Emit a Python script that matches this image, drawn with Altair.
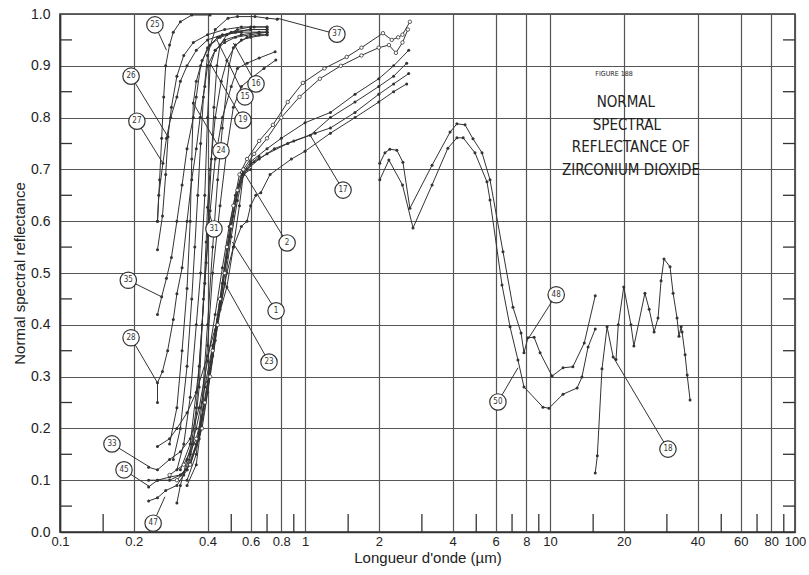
import altair as alt
import pandas as pd

# ---------------- data ----------------
# visible / near-UV curves (wavelength in um, reflectance)
c25_x = [0.25, 0.255, 0.26, 0.265, 0.27, 0.28, 0.29, 0.31, 0.345, 0.41]
c25_y = [0.60, 0.68, 0.76, 0.84, 0.90, 0.94, 0.965, 0.985, 0.998, 0.998]

c26_x = [0.25, 0.262, 0.27, 0.276, 0.285, 0.30, 0.32, 0.35, 0.40, 0.47, 0.55, 0.62, 0.70]
c26_y = [0.545, 0.61, 0.69, 0.763, 0.82, 0.88, 0.92, 0.945, 0.96, 0.97, 0.975, 0.975, 0.975]

c27_x = [0.25, 0.253, 0.263, 0.272, 0.283, 0.30, 0.31, 0.33, 0.36, 0.40, 0.46, 0.55, 0.70]
c27_y = [0.60, 0.65, 0.712, 0.76, 0.80, 0.84, 0.87, 0.90, 0.93, 0.95, 0.96, 0.965, 0.965]

c35_x = [0.25, 0.26, 0.272, 0.285, 0.30, 0.315, 0.33, 0.35, 0.36, 0.375, 0.40, 0.44, 0.50, 0.60, 0.70]
c35_y = [0.42, 0.454, 0.49, 0.53, 0.60, 0.67, 0.74, 0.80, 0.84, 0.90, 0.935, 0.955, 0.965, 0.97, 0.97]

c28_x = [0.25, 0.25, 0.262, 0.275, 0.29, 0.30, 0.315, 0.33, 0.345, 0.36, 0.373, 0.39, 0.40, 0.43, 0.47, 0.55, 0.65, 0.70]
c28_y = [0.25, 0.288, 0.31, 0.35, 0.41, 0.46, 0.51, 0.60, 0.68, 0.74, 0.80, 0.86, 0.90, 0.93, 0.95, 0.96, 0.965, 0.965]

c24_x = [0.28, 0.30, 0.315, 0.33, 0.34, 0.345, 0.35, 0.36, 0.38, 0.41, 0.45, 0.52, 0.60, 0.70]
c24_y = [0.17, 0.24, 0.35, 0.47, 0.60, 0.72, 0.828, 0.87, 0.91, 0.94, 0.955, 0.965, 0.97, 0.97]

c37_x = [0.29, 0.31, 0.33, 0.345, 0.355, 0.365, 0.375, 0.385, 0.40, 0.43, 0.485, 0.53, 0.625, 0.70, 0.77]
c37_y = [0.14, 0.20, 0.32, 0.45, 0.55, 0.65, 0.75, 0.84, 0.92, 0.97, 0.992, 0.995, 0.995, 0.992, 0.99]

c19_x = [0.30, 0.32, 0.34, 0.36, 0.375, 0.39, 0.40, 0.41, 0.43, 0.47, 0.52, 0.60, 0.70]
c19_y = [0.12, 0.17, 0.26, 0.40, 0.50, 0.65, 0.80, 0.90, 0.93, 0.945, 0.955, 0.96, 0.965]

c15_x = [0.32, 0.34, 0.36, 0.38, 0.395, 0.405, 0.415, 0.425, 0.437, 0.45, 0.48, 0.53, 0.60, 0.70]
c15_y = [0.11, 0.15, 0.24, 0.40, 0.52, 0.62, 0.72, 0.82, 0.90, 0.94, 0.96, 0.97, 0.975, 0.975]

c31_x = [0.33, 0.35, 0.37, 0.385, 0.395, 0.40, 0.41, 0.43, 0.455, 0.48, 0.52, 0.58, 0.65, 0.70]
c31_y = [0.12, 0.17, 0.28, 0.45, 0.56, 0.627, 0.70, 0.80, 0.87, 0.91, 0.94, 0.955, 0.96, 0.96]

c16_x = [0.33, 0.36, 0.38, 0.40, 0.42, 0.44, 0.46, 0.49, 0.51, 0.55, 0.60, 0.70]
c16_y = [0.10, 0.15, 0.25, 0.40, 0.55, 0.68, 0.78, 0.90, 0.935, 0.95, 0.955, 0.96]

cA_x = [0.31, 0.34, 0.37, 0.39, 0.41, 0.43, 0.46, 0.50, 0.53, 0.58, 0.65, 0.755]
cA_y = [0.12, 0.17, 0.32, 0.48, 0.62, 0.72, 0.80, 0.86, 0.895, 0.905, 0.915, 0.927]

cB_x = [0.33, 0.36, 0.38, 0.40, 0.42, 0.45, 0.48, 0.51, 0.55, 0.60, 0.68, 0.76]
cB_y = [0.09, 0.13, 0.22, 0.36, 0.50, 0.63, 0.74, 0.82, 0.86, 0.875, 0.895, 0.911]

# curves extending to 2.6 um (two drawn with open circles)
o1_x = [0.28, 0.32, 0.36, 0.39, 0.42, 0.45, 0.48, 0.51, 0.54, 0.58, 0.65, 0.74, 0.85, 0.98, 1.2, 1.48, 1.7, 2.08, 2.26, 2.4, 2.5, 2.68]
o1_y = [0.11, 0.13, 0.18, 0.25, 0.35, 0.45, 0.55, 0.63, 0.69, 0.72, 0.755, 0.786, 0.83, 0.867, 0.895, 0.917, 0.935, 0.963, 0.95, 0.955, 0.96, 0.985]

o2_x = [0.30, 0.34, 0.38, 0.41, 0.44, 0.47, 0.50, 0.53, 0.56, 0.62, 0.70, 0.80, 0.95, 1.15, 1.4, 1.7, 2.0, 2.2, 2.35, 2.5, 2.63]
o2_y = [0.10, 0.13, 0.20, 0.30, 0.40, 0.50, 0.59, 0.66, 0.70, 0.73, 0.76, 0.80, 0.84, 0.875, 0.90, 0.92, 0.935, 0.94, 0.925, 0.945, 0.97]

c33_x = [0.23, 0.25, 0.28, 0.31, 0.34, 0.37, 0.40, 0.43, 0.46, 0.49, 0.52, 0.55, 0.60, 0.70, 0.80, 1.0, 1.27, 1.6, 2.0, 2.3, 2.65]
c33_y = [0.125, 0.12, 0.14, 0.155, 0.18, 0.24, 0.33, 0.42, 0.51, 0.59, 0.65, 0.69, 0.715, 0.74, 0.76, 0.79, 0.81, 0.845, 0.875, 0.90, 0.93]

c45_x = [0.23, 0.25, 0.28, 0.31, 0.34, 0.37, 0.40, 0.43, 0.46, 0.49, 0.52, 0.56, 0.62, 0.70, 0.85, 1.05, 1.27, 1.6, 2.0, 2.3, 2.6]
c45_y = [0.087, 0.10, 0.106, 0.11, 0.13, 0.19, 0.29, 0.39, 0.48, 0.57, 0.64, 0.695, 0.715, 0.73, 0.75, 0.766, 0.80, 0.83, 0.86, 0.88, 0.905]

c47_x = [0.23, 0.25, 0.27, 0.30, 0.33, 0.36, 0.39, 0.42, 0.45, 0.48, 0.51, 0.54, 0.58, 0.65, 0.75, 0.90, 1.1, 1.27, 1.6, 2.0, 2.3, 2.65]
c47_y = [0.06, 0.066, 0.08, 0.09, 0.12, 0.17, 0.25, 0.34, 0.44, 0.53, 0.61, 0.67, 0.70, 0.72, 0.74, 0.755, 0.77, 0.78, 0.81, 0.845, 0.865, 0.885]

c2_x = [0.30, 0.31, 0.33, 0.36, 0.39, 0.42, 0.45, 0.48, 0.51, 0.55, 0.58, 0.60, 0.63, 0.66, 0.72, 0.88, 1.0, 1.27, 1.6, 2.0, 2.3, 2.6]
c2_y = [0.056, 0.09, 0.14, 0.20, 0.28, 0.36, 0.43, 0.50, 0.55, 0.59, 0.60, 0.63, 0.65, 0.655, 0.69, 0.72, 0.735, 0.77, 0.80, 0.83, 0.85, 0.865]

c1_x = [0.25, 0.28, 0.30, 0.33, 0.36, 0.40, 0.44, 0.48, 0.51, 0.54, 0.56, 0.60, 0.65]
c1_y = [0.165, 0.18, 0.20, 0.23, 0.27, 0.34, 0.41, 0.473, 0.55, 0.63, 0.69, 0.71, 0.725]

c23_x = [0.23, 0.25, 0.28, 0.31, 0.34, 0.37, 0.40, 0.43, 0.47, 0.50, 0.53, 0.56, 0.60]
c23_y = [0.10, 0.10, 0.10, 0.11, 0.13, 0.18, 0.27, 0.37, 0.48, 0.57, 0.64, 0.69, 0.70]

# infrared curves
c48_x = [2.02, 2.12, 2.22, 2.37, 2.51, 2.68, 3.30, 3.91, 4.17, 4.50, 4.85, 5.28, 5.69, 6.43, 7.06, 7.62, 7.83, 8.13, 8.61, 9.11, 10.2, 11.3, 12.4, 13.8, 15.3]
c48_y = [0.712, 0.732, 0.739, 0.737, 0.714, 0.625, 0.708, 0.772, 0.788, 0.786, 0.759, 0.732, 0.680, 0.541, 0.434, 0.384, 0.346, 0.375, 0.376, 0.346, 0.301, 0.317, 0.319, 0.365, 0.456]

c50_x = [2.02, 2.20, 2.50, 2.76, 3.30, 3.83, 4.17, 4.42, 4.94, 5.53, 5.69, 6.37, 6.87, 7.40, 7.83, 9.36, 9.91, 11.3, 12.9, 13.5, 14.3, 15.3]
c50_y = [0.680, 0.718, 0.670, 0.587, 0.670, 0.741, 0.761, 0.761, 0.732, 0.676, 0.641, 0.477, 0.396, 0.332, 0.280, 0.241, 0.239, 0.266, 0.278, 0.299, 0.357, 0.392]

c18_x = [15.3, 15.6, 16.3, 17.1, 18.1, 18.6, 19.0, 20.0, 21.4, 22.0, 24.4, 25.4, 26.6, 27.6, 28.4, 29.2, 30.9, 31.8, 33.0, 33.6, 34.3, 34.6, 35.6, 36.3, 37.3]
c18_y = [0.114, 0.147, 0.315, 0.396, 0.338, 0.333, 0.400, 0.473, 0.400, 0.359, 0.461, 0.430, 0.386, 0.413, 0.485, 0.527, 0.512, 0.461, 0.413, 0.378, 0.396, 0.386, 0.342, 0.303, 0.255]

filled_curves = {
    "25": (c25_x, c25_y), "26": (c26_x, c26_y), "27": (c27_x, c27_y),
    "35": (c35_x, c35_y), "28": (c28_x, c28_y), "24": (c24_x, c24_y),
    "37": (c37_x, c37_y), "19": (c19_x, c19_y), "15": (c15_x, c15_y),
    "31": (c31_x, c31_y), "16": (c16_x, c16_y), "A": (cA_x, cA_y),
    "B": (cB_x, cB_y), "33": (c33_x, c33_y), "45": (c45_x, c45_y),
    "47": (c47_x, c47_y), "2": (c2_x, c2_y), "1": (c1_x, c1_y),
    "23": (c23_x, c23_y), "48": (c48_x, c48_y), "50": (c50_x, c50_y),
    "18": (c18_x, c18_y),
}
open_curves = {"o1": (o1_x, o1_y), "o2": (o2_x, o2_y)}

# circled curve labels: text, label position, leader end on curve
lab_text = ["25", "37", "26", "27", "16", "15", "19", "24", "31", "2", "17", "1", "23",
            "35", "28", "33", "45", "47", "48", "50", "18"]
lab_x = [0.244, 1.35, 0.195, 0.206, 0.631, 0.569, 0.558, 0.454, 0.425, 0.845, 1.43, 0.762, 0.713,
         0.19, 0.195, 0.163, 0.1825, 0.240, 10.6, 6.13, 30.3]
lab_y = [0.979, 0.961, 0.880, 0.793, 0.865, 0.840, 0.795, 0.736, 0.585, 0.558, 0.660, 0.427, 0.328,
         0.486, 0.375, 0.170, 0.120, 0.017, 0.458, 0.251, 0.160]
end_x = [0.272, 0.769, 0.276, 0.263, 0.51, 0.437, 0.41, 0.35, 0.40, 0.57, 1.05, 0.505, 0.47,
         0.26, 0.25, 0.233, 0.233, 0.268, 8.2, 7.4, 18.1]
end_y = [0.93, 0.992, 0.763, 0.712, 0.944, 0.95, 0.905, 0.828, 0.627, 0.69, 0.766, 0.56, 0.48,
         0.454, 0.288, 0.125, 0.087, 0.068, 0.375, 0.317, 0.338]

# figure caption block
cap_text = ["FIGURE 188", "NORMAL", "SPECTRAL", "REFLECTANCE OF", "ZIRCONIUM    DIOXIDE"]
cap_x = [18.25, 20.4, 20.6, 21.4, 21.4]
cap_y = [0.884, 0.830, 0.786, 0.743, 0.699]
cap_size = [7, 15, 15, 15, 15]

x_ticks = [0.1, 0.2, 0.4, 0.6, 0.8, 1, 2, 4, 6, 8, 10, 20, 40, 60, 80, 100]
x_minor = [0.15, 0.5, 0.7, 0.9, 1.5, 3, 5, 7, 9, 15, 30, 50, 70, 90]
y_ticks = [0.0, 0.1, 0.2, 0.3, 0.4, 0.5, 0.6, 0.7, 0.8, 0.9, 1.0]
y_half = [0.05, 0.15, 0.25, 0.35, 0.45, 0.55, 0.65, 0.75, 0.85, 0.95]

# ---------------- build tables ----------------
def to_df(d):
    rows = []
    for k, (xs, ys) in d.items():
        for i, (a, b) in enumerate(zip(xs, ys)):
            rows.append({"curve": k, "i": i, "wl": a, "r": b})
    return pd.DataFrame(rows)

df_f = to_df(filled_curves)
df_o = to_df(open_curves)
df_lab = pd.DataFrame({"t": lab_text, "lx": lab_x, "ly": lab_y, "ex": end_x, "ey": end_y})
df_cap = pd.DataFrame({"t": cap_text, "x": cap_x, "y": cap_y, "s": cap_size})
df_minor = pd.DataFrame({"x": x_minor})
df_half = pd.DataFrame({"y": y_half})

W, H = 735, 518
INK = "#333333"
xs = alt.Scale(type="log", domain=[0.1, 100])
ys = alt.Scale(domain=[0, 1])

x_axis = alt.Axis(values=x_ticks, format="~g", title="Longueur d'onde (µm)", grid=True,
                  ticks=False, labelFlush=False, labelPadding=3, titlePadding=2,
                  labelFontSize=13)
y_axis = alt.Axis(values=y_ticks, format=".1f", title="Normal spectral reflectance", grid=True,
                  ticks=False, labelPadding=10, titlePadding=3)

lines_f = alt.Chart(df_f).mark_line(
    color=INK, strokeWidth=1,
    point=alt.OverlayMarkDef(filled=True, size=9, color=INK)
).encode(
    x=alt.X("wl:Q", scale=xs, axis=x_axis),
    y=alt.Y("r:Q", scale=ys, axis=y_axis),
    detail="curve:N", order="i:Q",
)

lines_o = alt.Chart(df_o).mark_line(
    color=INK, strokeWidth=1,
    point=alt.OverlayMarkDef(filled=False, size=12, stroke=INK, fill="white", strokeWidth=0.8)
).encode(
    x=alt.X("wl:Q", scale=xs), y=alt.Y("r:Q", scale=ys),
    detail="curve:N", order="i:Q",
)

minor = alt.Chart(df_minor).mark_rule(color=INK, strokeWidth=1.3).encode(
    x=alt.X("x:Q", scale=xs), y=alt.value(H - 18), y2=alt.value(H))
half_l = alt.Chart(df_half).mark_rule(color=INK, strokeWidth=1.3).encode(
    y=alt.Y("y:Q", scale=ys), x=alt.value(0), x2=alt.value(12))
half_r = alt.Chart(df_half).mark_rule(color=INK, strokeWidth=1.3).encode(
    y=alt.Y("y:Q", scale=ys), x=alt.value(W - 12), x2=alt.value(W))

leaders = alt.Chart(df_lab).mark_rule(color=INK, strokeWidth=1).encode(
    x=alt.X("lx:Q", scale=xs), y=alt.Y("ly:Q", scale=ys), x2="ex:Q", y2="ey:Q")
circles = alt.Chart(df_lab).mark_point(shape="circle", size=270, filled=True, fill="white",
                                       stroke=INK, strokeWidth=1.2, opacity=1).encode(
    x=alt.X("lx:Q", scale=xs), y=alt.Y("ly:Q", scale=ys))
circ_txt = alt.Chart(df_lab).mark_text(fontSize=8, font="DejaVu Sans Condensed, Liberation Sans",
                                       color=INK).encode(
    x=alt.X("lx:Q", scale=xs), y=alt.Y("ly:Q", scale=ys), text="t:N")

caption = alt.Chart(df_cap).mark_text(font="DejaVu Sans Condensed, Liberation Sans",
                                      color="#222", align="center", baseline="middle").encode(
    x=alt.X("x:Q", scale=xs), y=alt.Y("y:Q", scale=ys), text="t:N",
    size=alt.Size("s:Q", scale=None, legend=None))

chart = alt.layer(lines_f, lines_o, minor, half_l, half_r, leaders, circles, circ_txt, caption).properties(
    width=W, height=H,
    autosize=alt.AutoSizeParams(type="none"),
    padding={"left": 60, "top": 14, "right": 14, "bottom": 43},
    background="white",
).configure_view(
    stroke=INK, strokeWidth=1.6
).configure_axis(
    labelFont="Liberation Sans", titleFont="Liberation Sans",
    labelFontSize=14, titleFontSize=15, titleFontWeight="normal",
    labelColor="#222", titleColor="#222",
    gridColor="#555555", gridWidth=1.2, gridOpacity=1,
    domainColor=INK, domainWidth=1.6,
)

chart.save("out.html", embed_options={"renderer": "svg", "actions": False})
